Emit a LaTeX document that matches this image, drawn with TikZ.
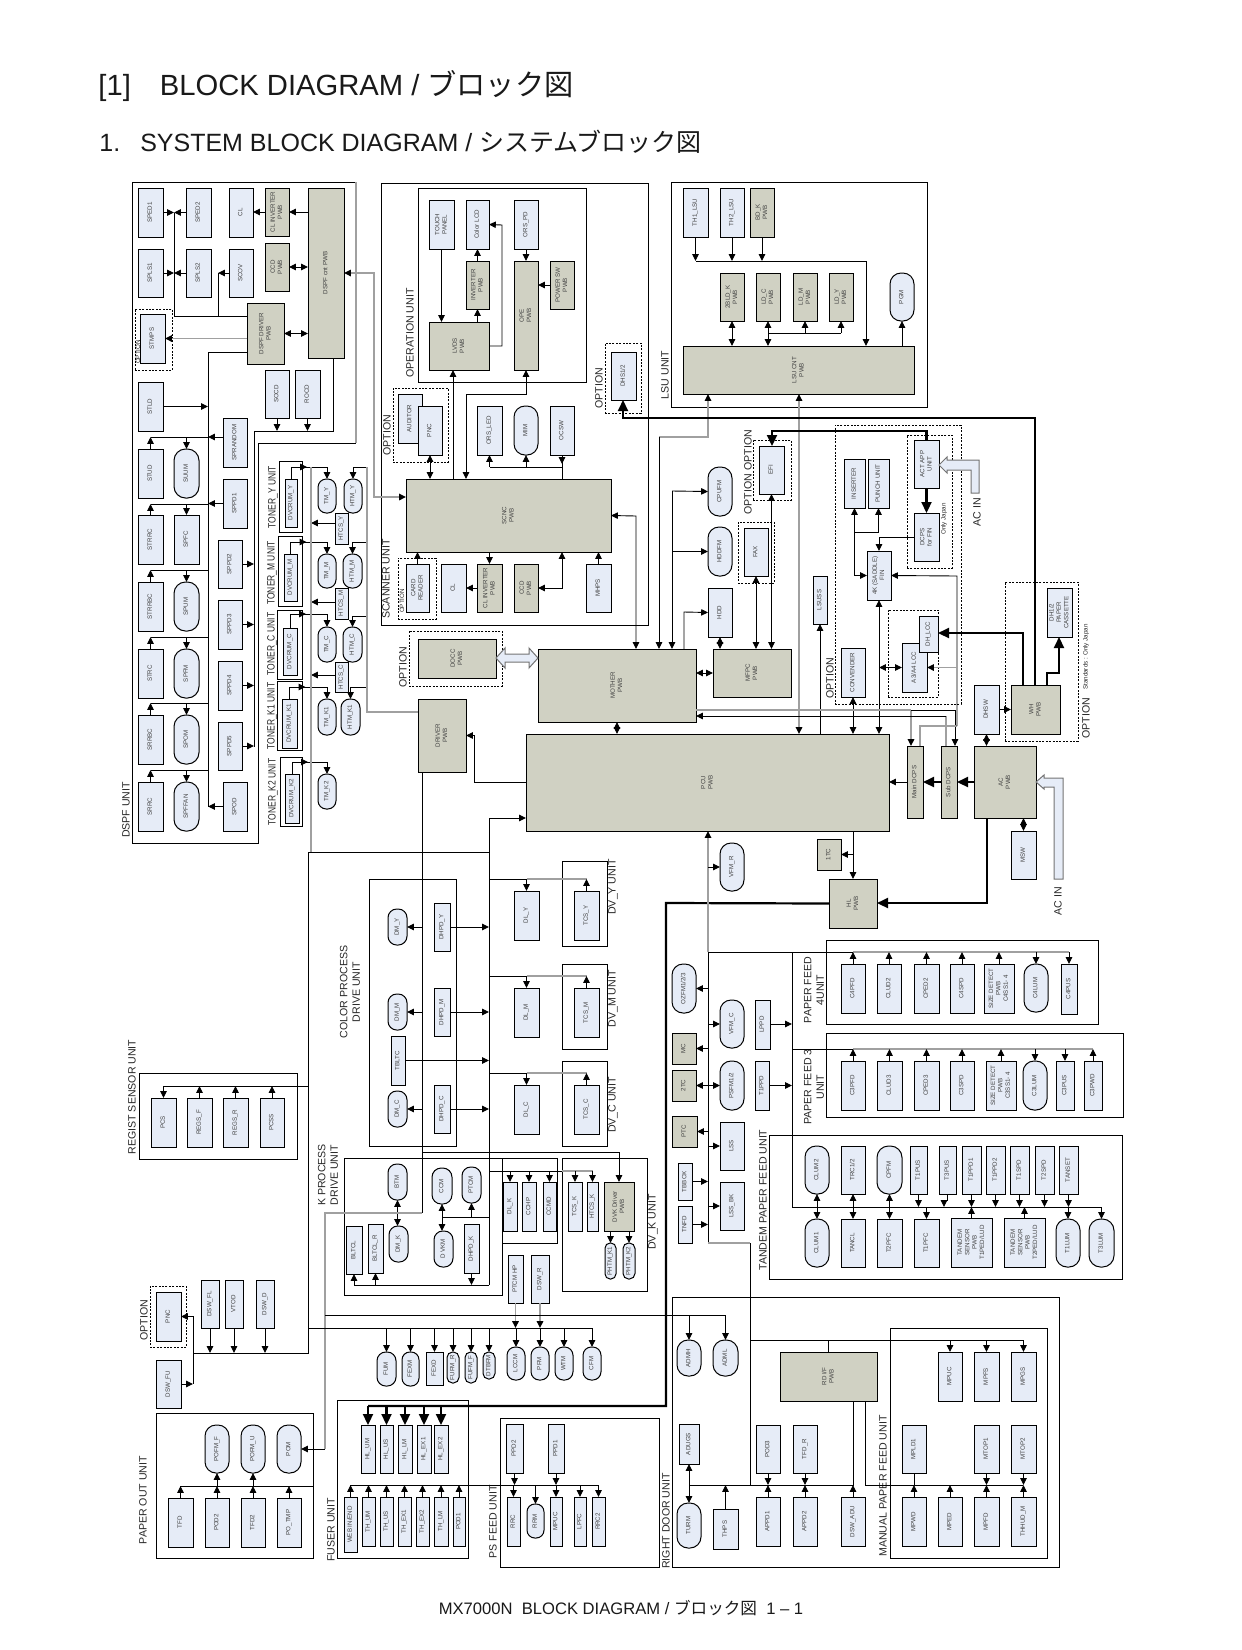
\documentclass[tikz,border=0pt]{standalone}
\usepackage{fontspec}
\setmainfont{Liberation Sans}
\newfontfamily\cjk{Noto Sans CJK JP}
\usetikzlibrary{arrows.meta}
\definecolor{sensorfill}{HTML}{E6ECF7}
\definecolor{pwbfill}{HTML}{D0D1C3}
\definecolor{railgray}{HTML}{A0A0A0}
\tikzset{
  sensor/.style={draw,fill=sensorfill,line width=0.5pt,inner sep=0pt,outer sep=0pt,text=black!75,font=\fontsize{3.1}{3.7}\selectfont},
  pwb/.style={sensor,fill=pwbfill},
  motor/.style={sensor,rounded corners=\rad pt},
  frame/.style={draw,line width=0.5pt,inner sep=0pt,outer sep=0pt},
  optbox/.style={frame,line width=0.4pt,dash pattern=on 1pt off 0.7pt},
  unit/.style={rotate=90,inner sep=0pt,align=center,text=black!85,font=\fontsize{5.3}{6.2}\selectfont},
  note/.style={unit,font=\fontsize{3.1}{3.6}\selectfont},
  wire/.style={line width=0.45pt},
  arr/.style={wire,-{Triangle[length=3.4pt,width=3.2pt]}},
  dbl/.style={wire,{Triangle[length=3.4pt,width=3.2pt]}-{Triangle[length=3.4pt,width=3.2pt]}},
  gry/.style={line width=0.7pt,railgray},
  arrg/.style={gry,-{Triangle[length=3.4pt,width=3.2pt,color=black]}},
  dblg/.style={gry,{Triangle[length=3.4pt,width=3.2pt,color=black]}-{Triangle[length=3.4pt,width=3.2pt,color=black]}},
  pwr/.style={line width=1.1pt,-{Triangle[length=5.5pt,width=5pt]}},
  bulk/.style={draw=black!55,fill=sensorfill,line width=0.5pt},
  title/.style={inner sep=0pt,anchor=west,text=black!90}
}
\newcommand{\rt}[1]{\rotatebox{90}{\begin{tabular}{@{}c@{}}#1\end{tabular}}}
\newcommand{\narrow}[1]{\scalebox{0.8}[1]{#1}}
\newcommand{\blocks}[2]{%
  \foreach \nm/\xa/\ya/\xb/\yb/\txt in {#2}{%
    \pgfmathsetmacro{\bw}{(\xb-\xa)*0.5}%
    \pgfmathsetmacro{\bh}{(\yb-\ya)*0.5}%
    \pgfmathsetmacro{\rad}{(\xb-\xa)*0.23}%
    \node[#1,minimum width=\bw pt,minimum height=\bh pt] (\nm) at ({(\xa+\xb)/2},{(\ya+\yb)/2}) {\rt{\txt}};
  }}
\begin{document}
\begin{tikzpicture}[x=0.5pt,y=-0.5pt]
    \useasboundingbox (0,0) rectangle (1242,1650);
    % Headings
    \node[title,font=\fontsize{14.6}{18}\selectfont] (headA) at (98,86) {[1]\hspace{14.5pt}BLOCK DIAGRAM / {\cjk ブロック図}};
    \node[title,font=\fontsize{12.5}{16}\selectfont] (headB) at (99,142) {1.\hspace{10pt}SYSTEM BLOCK DIAGRAM / {\cjk システムブロック図}};
    \node[inner sep=0pt,text=black!90,font=\fontsize{8.3}{10}\selectfont] (footer) at (621,1608) {MX7000N\ \ BLOCK DIAGRAM / {\cjk ブロック図}\ \ 1 – 1};

    % Unit frames
    \draw[frame] (356,182) -- (132,182) -- (132,843) -- (258,843) -- (258,443) -- (356,443);
    \draw[gry] (356,182) -- (356,443);
    \blocks{frame}{TonerYfr/279/461/302/532/{},TonerMfr/278/536/302/606/{},TonerCfr/277/610/302/679/{},TonerKafr/277/681/302/750/{},TonerKbfr/280/757/302/826/{},
      Scanfr/381/183/648/625/{},Operfr/418/188/586/382/{},Lsufr/671/182/927/407/{},
      Colorfr/369/879/456/1146/{},DvYfr/562/861/607/946/{},DvMfr/562/964/607/1049/{},DvCfr/562/1061/607/1146/{},Kprocfr/344/1158/502/1295/{},Kdlfr/502/1158/557/1243/{},DvKfr/562/1158/647/1291/{},
      Registfr/139/1073/297/1159/{},Paperfr/156/1413/313/1558/{},Fuserfr/337/1400/468/1558/{},Psfeedfr/500/1418/659/1567/{},Doorfr/672/1297/1059/1567/{},Manualfr/890/1328/1047/1558/{},
      FeedAfr/826/940/1098/1024/{},FeedBfr/826/1033/1123/1117/{},Tandemfr/769/1135/1122/1279/{}}
    \blocks{optbox}{Optstmps/135/309/172/370/{},Optaudit/393/388/448/462/{},Optcard/398/558/436/619/{},Optdhs/605/343/641/413/{},Optdocc/409/631/502/686/{},
      Optfax/738/522/774/583/{},Optefi/753/440/791/500/{},Optfin/835/425/961/704/{},Optact/907/435/952/568/{},Optlcc/888/610/938/697/{},Optwh/1005/582/1078/741/{},Optpnc/150/1286/186/1347/{}}

    % Unit labels
    \foreach \nm/\lx/\ly/\txt in {lbDspf/126/810/DSPF UNIT,lbTy/273/497/\narrow{TONER\_Y UNIT},lbTm/272/573/\narrow{TONER\_M UNIT},lbTc/272/644/\narrow{TONER\_C UNIT},lbTk/272/716/\narrow{TONER\_K1 UNIT},lbTkb/273/792/\narrow{TONER\_K2 UNIT},
      lbOper/410/333/OPERATION UNIT,lbOa/387/435/OPTION,lbOb/599/388/OPTION,lbLsu/665/375/LSU UNIT,lbScan/386/579/SCANNER UNIT,lbOc/403/667/OPTION,lbOd/748/450/OPTION,lbOe/748/494/OPTION,lbOf/830/678/OPTION,lbOg/1086/718/OPTION,
      lbAca/977/512/AC IN,lbAcb/1058/901/AC IN,lbColor/350/992/COLOR PROCESS\\DRIVE UNIT,lbKp/328/1175/K PROCESS\\DRIVE UNIT,lbDvy/613/887/DV\_Y UNIT,lbDvm/613/999/DV\_M UNIT,lbDvc/613/1105/DV\_C UNIT,lbDvk/653/1222/DV\_K UNIT,
      lbReg/132/1097/REGIST SENSOR UNIT,lbOh/144/1320/OPTION,lbPo/143/1500/PAPER OUT UNIT,lbFu/331/1530/FUSER UNIT,lbPs/493/1522/PS FEED UNIT,lbRd/666/1521/RIGHT DOOR UNIT,lbMp/883/1486/MANUAL PAPER FEED UNIT,
      lbFa/814/990/PAPER FEED\\4UNIT,lbFb/814/1087/PAPER FEED 3\\UNIT,lbTa/763/1200/TANDEM PAPER FEED UNIT}
      {\node[unit] (\nm) at (\lx,\ly) {\txt};}
    \foreach \nm/\lx/\ly/\txt in {ntA/138/352/OPTION,ntB/402/601/OPTION,ntC/944/519/Only Japan,ntD/1086/657/Standards : Only Japan}
      {\node[note] (\nm) at (\lx,\ly) {\txt};}

    % DSPF unit
    \blocks{sensor}{SPEDa/138/188/163/237/SPED1,SPEDb/186/188/211/237/SPED2,CLa/229/188/253/237/CL,SPLSa/138/249/163/297/SPLS1,SPLSb/186/249/211/297/SPLS2,SCOV/229/249/253/297/SCOV,
      STMPS/140/314/165/363/STMPS,STLD/138/382/163/431/STLD,SOCD/265/370/289/418/SOCD,ROCD/295/370/320/418/ROCD,SPRANDOM/223/418/247/467/SPRANDOM,STUD/138/449/163/498/STUD,SPPDa/223/479/247/528/SPPD1,
      STRRC/138/515/163/564/STRRC,SPPDb/218/540/242/588/SPPD2,STRRBC/138/582/163/631/STRRBC,SPPDc/218/600/242/649/SPPD3,STRC/138/649/163/698/STRC,SPPDd/218/661/242/710/SPPD4,
      SRRBC/138/715/163/764/SRRBC,SPPDe/218/722/242/770/SPPD5,SRRC/138/782/163/831/SRRC,SPOD/223/782/247/831/SPOD,SPFC/174/515/199/564/SPFC}
    \blocks{pwb}{CLINVa/265/188/289/236/CL INVERTER\\PWB,CCDa/265/243/289/291/CCD\\PWB,DSPFCNT/308/188/344/358/DSPF cnt PWB,DSPFDRV/247/303/284/364/DSPF DRIVER\\PWB}
    \blocks{motor}{SUUM/174/449/199/498/SUUM,SPUM/174/582/199/631/SPUM,SPFM/174/649/199/698/SPFM,SPOM/174/715/199/764/SPOM,SPFFAN/174/782/199/831/SPFFAN}
    \coordinate (dspfA) at (174,316);
    \coordinate (dspfB) at (218,316);
    \draw[wire] (DSPFDRV.west |- dspfA) -- (dspfA) -- (dspfA |- SPEDa.east);
    \draw[wire] (dspfB) -- (dspfB |- SCOV.west);
    \foreach \n in {SPEDa,SPLSa} \draw[arr] (\n.east) -- (\n.east -| dspfA);
    \foreach \n in {SPEDb,SPLSb} \draw[arr] (\n.west) -- (\n.west -| dspfA);
    \draw[arr] (SCOV.west) -- (SCOV.west -| dspfB);
    \draw[arr] (DSPFCNT.west |- CLINVa.east) -- (CLINVa.east);
    \draw[arr] (CLINVa.west) -- (CLINVa.west -| CLa.east);
    \draw[dbl] (CCDa.east) -- (CCDa.east -| DSPFCNT.west);
    \draw[dbl] (DSPFDRV.east) -- (DSPFDRV.east -| DSPFCNT.west);
    \draw[arrg] (DSPFDRV.west |- STMPS.east) -- (STMPS.east);
    \coordinate (dspfC) at (208,352);
    \coordinate (dspfD) at (208,807);
    \draw[wire] (DSPFDRV.west |- dspfC) -- (dspfC) -- (dspfD);
    \draw[arr] (STLD.east) -- (STLD.east -| dspfC);
    \draw[arr] (SPOD.west) -- (SPOD.west -| dspfD);
    \foreach \sr/\mo/\py in {STUD/SUUM/437,STRRC/SPFC/504,STRRBC/SPUM/570,STRC/SPFM/637,SRRBC/SPOM/703,SRRC/SPFFAN/770}{
      \draw[wire] (dspfC |- 0,\py) -- (\sr.north |- 0,\py);
      \draw[arr] (\sr.north) -- (\sr.north |- 0,\py);
      \draw[arr] (\mo.north |- 0,\py) -- (\mo.north);
    }
    \draw[arr] (SPRANDOM.west |- 0,437) -- (dspfC |- 0,437);
    \draw[arr] (SPPDa.west) -- (SPPDa.west -| dspfC);
    \coordinate (cntA) at (333,431);
    \coordinate (cntB) at (254,431);
    \coordinate (cntC) at (254,747);
    \draw[wire] (DSPFCNT.south -| cntA) -- (cntA) -- (cntB) -- (cntC);
    \foreach \n in {SOCD,ROCD} \draw[arr] (\n.south) -- (\n.south |- cntA);
    \foreach \n in {SPPDb,SPPDc,SPPDd,SPPDe} \draw[arr] (\n.east) -- (\n.east -| cntB);

    % Toner units
    \blocks{sensor}{DVY/285/479/297/527/DVCRUM\_Y,DVM/284/554/297/601/DVCRUM\_M,DVC/283/628/297/675/DVCRUM\_C,DVKa/282/699/297/748/DVCRUM\_K1,DVKb/285/774/299/823/DVCRUM\_K2,
      HTCSY/335/513/348/544/HTCS\_Y,HTCSM/335/588/348/619/HTCS\_M,HTCSC/335/662/348/692/HTCS\_C}
    \blocks{motor}{TMY/318/479/336/513/TM\_Y,HTMY/344/479/362/513/HTM\_Y,TMM/318/554/336/588/TM\_M,HTMM/343/554/362/588/HTM\_M,TMC/318/627/336/662/TM\_C,HTMC/343/627/362/662/HTM\_C,TMKa/318/699/336/735/TM\_K1,HTMK/341/699/360/735/HTM\_K1,TMKb/318/774/336/809/TM\_K2}
    \foreach \dv/\tm/\py in {DVY/TMY/467,DVM/TMM/542,DVC/TMC/614,DVKa/TMKa/687,DVKb/TMKb/762}{
      \draw[wire] (\dv.north) -- (\dv.north |- 0,\py) -- (\tm.north |- 0,\py);
      \draw[arr] (\dv.north |- 0,\py) -- ++(16,0);
      \draw[arr] (\tm.north |- 0,\py) -- (\tm.north);
    }
    \coordinate (railT) at (367,467);
    \coordinate (railB) at (367,712);
    \coordinate (railU) at (311,467);
    \coordinate (railV) at (311,852);
    \foreach \n/\py in {HTMY/467,HTMM/542,HTMC/616,HTMK/687}
      \draw[arr] (railT |- 0,\py) -- (\n.north |- 0,\py) -- (\n.north);
    \foreach \n/\py in {HTCSY/523,HTCSM/602,HTCSC/675}
      \draw[arr] (\n.west |- 0,\py) -- (railU |- 0,\py);

    % Operation unit
    \blocks{sensor}{TOUCH/429/200/454/249/TOUCH\\PANEL,CLCD/466/200/489/249/Color LCD,ORSPD/514/200/538/249/ORS\_PD}
    \blocks{pwb}{INVPWB/466/261/489/309/INVERTER\\PWB,OPE/514/261/538/370/OPE\\PWB,POWSW/550/261/574/309/POWER SW\\PWB,LVDS/429/322/489/370/LVDS\\PWB}
    \draw[arr] (TOUCH.south) -- (TOUCH.south |- LVDS.north);
    \draw[arr] (INVPWB.south |- LVDS.north) -- (INVPWB.south);
    \draw[arr] (INVPWB.north) -- (CLCD.south);
    \coordinate (lvA) at (502,346);
    \coordinate (lvB) at (502,225);
    \draw[arr] (LVDS.east) -- (lvA) -- (lvB) -- (CLCD.east);
    \draw[arr] (ORSPD.south) -- (OPE.north);
    \draw[arr] (POWSW.west |- 0,285) -- (OPE.east |- 0,285);

    % Scanner unit
    \blocks{sensor}{AUDITOR/398/394/422/443/AUDITOR,PNCa/418/406/442/455/PNC,ORSLED/477/406/502/455/ORS\_LED,OCSW/550/406/574/455/OCSW,CARD/406/564/429/612/CARD\\READER,CLb/441/564/466/612/CL,MHPS/586/564/611/612/MHPS,DHS/611/352/636/400/{DHS1/2}}
    \blocks{motor}{MIM/514/406/538/455/MIM}
    \blocks{pwb}{SCNC/406/479/611/552/SCNC\\PWB,CLINVb/477/564/502/612/CL INVERTER\\PWB,CCDb/514/564/538/612/CCD\\PWB}
    \coordinate (gA) at (374,273);
    \coordinate (gB) at (374,497);
    \draw[dblg] (DSPFCNT.east |- gA) -- (gA) -- (gB) -- (SCNC.west |- gB);
    \coordinate (opA) at (526,394);
    \coordinate (opB) at (466,394);
    \draw[dbl] (OPE.south) -- (opA) -- (opB) -- (opB |- SCNC.north);
    \coordinate (lvC) at (453,370);
    \draw[arr] (lvC |- SCNC.north) -- (lvC);
    \draw[dbl] (PNCa.south) -- (PNCa.south |- SCNC.north);
    \coordinate (ocA) at (562,467);
    \draw[wire] (ocA) -- (ORSLED.south |- ocA);
    \draw[arr] (ORSLED.south |- ocA) -- (ORSLED.south);
    \draw[arr] (MIM.south |- ocA) -- (MIM.south);
    \draw[wire] (OCSW.south) -- (OCSW.south |- SCNC.north);
    \draw[arr] (OCSW.south) -- ++(0,9);
    \draw[arr] (CARD.north) -- (CARD.north |- SCNC.south);
    \draw[arr] (CLINVb.north |- SCNC.south) -- (CLINVb.north);
    \draw[arr] (CLINVb.west) -- (CLb.east);
    \coordinate (ccA) at (562,588);
    \draw[dbl] (CCDb.east) -- (ccA) -- (ccA |- SCNC.south);
    \draw[arr] (MHPS.north) -- (MHPS.north |- SCNC.south);

    % LSU unit
    \blocks{sensor}{THaLSU/683/188/708/237/TH1\_LSU,THbLSU/720/188/744/237/TH2\_LSU}
    \blocks{pwb}{BDK/750/188/774/237/BD\_K\\PWB,LDK/720/273/744/321/2BLD\_K\\PWB,LDC/756/273/780/321/LD\_C\\PWB,LDM/793/273/817/321/LD\_M\\PWB,LDY/829/273/853/321/LD\_Y\\PWB,LSUCNT/683/346/914/394/LSU CNT\\PWB}
    \blocks{motor}{PGM/890/273/914/321/PGM}
    \coordinate (lsuA) at (696,261);
    \coordinate (lsuB) at (866,261);
    \draw[wire] (lsuA) -- (lsuB);
    \draw[arr] (lsuB) -- (lsuB |- LSUCNT.north);
    \foreach \n in {THaLSU,THbLSU,BDK} \draw[arr] (\n.south) -- (\n.south |- lsuA);
    \foreach \n in {LDK,LDC} \draw[dbl] (\n.south) -- (\n.south |- LSUCNT.north);
    \coordinate (lsuC) at (768,333);
    \draw[wire] (lsuC) -- (lsuC -| LDY.south);
    \foreach \n in {LDM,LDY} \draw[arr] (\n.south |- lsuC) -- (\n.south);
    \draw[arr] (PGM.south |- LSUCNT.north) -- (PGM.south);

    % Mother and PCU
    \blocks{pwb}{MOTHER/538/649/696/722/MOTHER\\PWB,DOCC/418/639/496/678/DOCC\\PWB,DRIVER/418/699/466/772/DRIVER\\PWB,PCU/526/734/889/831/PCU\\PWB,MFPC/713/649/791/697/MFPC\\PWB,
      MAINDC/907/746/923/818/Main DCPS,SUBDC/941/746/957/818/Sub DCPS,ACPWB/974/746/1036/818/AC\\PWB,WH/1011/685/1060/734/WH\\PWB,HL/829/879/877/928/HL\\PWB,TCa/817/839/841/870/1TC}
    \blocks{sensor}{HDD/708/588/732/637/HDD,FAX/744/528/768/576/FAX,EFI/759/446/784/494/EFI,LSUSS/813/576/827/624/LSUSS,CONV/841/648/865/697/CONVENDER,
      FIN/867/551/891/600/4K (SADDLE)\\FIN,LCC/902/643/927/692/{A3/A4 LCC},DHLCC/919/616/938/652/DH\_LCC,INSERTER/844/459/865/508/INSERTER,PUNCH/868/459/889/508/PUNCH UNIT,
      ACTAPP/914/440/939/488/ACT APP\\UNIT,DCPS/914/513/939/561/DCPS\\for FIN,DHSW/974/685/999/734/DHSW,DHCAS/1047/588/1072/637/{DH1/2\\PAPER\\CASSETTE},MSW/1011/831/1036/879/MSW}
    \blocks{motor}{CPUFM/708/467/732/516/CPUFM,HDDFM/708/527/732/576/HDDFM,VFMR/720/843/744/891/VFM\_R}
    \draw[bulk] (DOCC.east |- 0,658) -- ++(9,-10) -- ++(0,6) -- ++(24,0) -- ++(0,-6) -- (MOTHER.west |- 0,658) -- ++(-9,10) -- ++(0,-6) -- ++(-24,0) -- ++(0,6) -- cycle;
    \draw[bulk] (ACTAPP.east |- 0,465) -- ++(8,-8) -- ++(0,3) -- ++(32,0) -- ++(0,33) -- ++(-8,0) -- ++(0,-23) -- ++(-24,0) -- ++(0,3) -- cycle;
    \draw[bulk] (ACPWB.east |- 0,782) -- ++(8,-7) -- ++(0,3) -- ++(19,0) -- ++(0,101) -- ++(-9,0) -- ++(0,-92) -- ++(-10,0) -- ++(0,2) -- cycle;
    \coordinate (scA) at (636,516);
    \draw[dbl] (SCNC.east) -- (scA) -- (scA |- MOTHER.north);
    \coordinate (cnA) at (659,437);
    \coordinate (cnB) at (708,437);
    \coordinate (cnC) at (799,394);
    \draw[arrg] (cnA) -- (cnB) -- (cnB |- LSUCNT.south);
    \draw[arr] (cnA) -- (cnA |- MOTHER.north);
    \draw[dblg] (LSUCNT.south -| cnC) -- (PCU.north -| cnC);
    \coordinate (mbA) at (672,491);
    \draw[arr] (mbA) -- (CPUFM.west);
    \draw[arr] (mbA) -- (mbA |- MOTHER.north);
    \draw[arr] (HDDFM.west -| mbA) -- (HDDFM.west);
    \coordinate (mbB) at (684,612);
    \draw[arr] (mbB |- MOTHER.north) -- (mbB) -- (HDD.west);
    \draw[dbl] (MFPC.west) -- (MFPC.west -| MOTHER.east);
    \draw[dbl] (HDD.south) -- (HDD.south |- MFPC.north);
    \draw[dbl] (FAX.south) -- (FAX.south |- MFPC.north);
    \draw[dbl] (EFI.south) -- (EFI.south |- MFPC.north);
    \draw[arr] (LSUSS.south |- PCU.north) -- (LSUSS.south);
    \draw[dbl] (CONV.south) -- (CONV.south |- PCU.north);
    \draw[dbl] (FIN.south) -- (FIN.south |- PCU.north);
    \draw[dbl] (LCC.west) -- (LCC.west -| FIN.south);
    \draw[dbl] (MOTHER.south) -- (MOTHER.south |- PCU.north);
    \coordinate (drA) at (474,782);
    \draw[arr] (PCU.west |- drA) -- (drA) -- (drA |- DRIVER.east) -- (DRIVER.east);

    % Option finisher wiring
    \coordinate (thA) at (1035,418);
    \coordinate (thB) at (623,418);
    \draw[pwr] (WH.north -| thA) -- (thA) -- (thB) -- (DHS.south -| thB);
    \coordinate (acpA) at (927,431);
    \coordinate (acpB) at (772,431);
    \draw[pwr] (ACTAPP.north) -- (ACTAPP.north |- acpA) -- (acpB) -- (EFI.north -| acpB);
    \draw[pwr] (ACTAPP.south) -- (DCPS.north);
    \draw[arr] (DCPS.west) -- (DCPS.west -| FIN.north) -- (FIN.north);
    \draw[dbl] (INSERTER.south) -- (INSERTER.south |- FIN.west) -- (FIN.west);
    \draw[arr] (INSERTER.south |- 0,532) -- (PUNCH.south |- 0,532) -- (PUNCH.south);
    \coordinate (whA) at (1023,633);
    \draw[pwr] (WH.north -| whA) -- (whA) -- (DHLCC.east |- whA);
    \coordinate (whB) at (1047,673);
    \coordinate (whC) at (1059,673);
    \draw[pwr] (WH.north -| whB) -- (whB) -- (whC) -- (DHCAS.south -| whC);
    \draw[arr] (DHSW.east) -- (WH.west |- DHSW.east);
    \draw[dbl] (DHSW.south) -- (DHSW.south |- ACPWB.north);
    \draw[dbl] (MSW.north) -- (MSW.north |- ACPWB.south);
    \draw[pwr] (ACPWB.west) -- (SUBDC.east);
    \draw[pwr] (SUBDC.west) -- (MAINDC.east);
    \draw[arr] (MAINDC.west) -- (PCU.east |- MAINDC.west);
    \coordinate (acA) at (987,903);
    \draw[pwr] (ACPWB.south -| acA) -- (acA) -- (HL.east |- acA);
    \draw[arr] (PCU.south -| HL.north) -- (HL.north);
    \draw[arr] (TCa.east -| HL.north) -- (TCa.east);

    % Power rails
    \coordinate (rlA) at (911,710);
    \coordinate (rlB) at (955,710);
    \coordinate (rlC) at (946,716);
    \coordinate (rlD) at (920,726);
    \coordinate (rlE) at (957,726);
    \coordinate (rlF) at (957,576);
    \draw[gry] (MOTHER.east |- rlA) -- (rlA);
    \draw[arrg] (rlA) -- (rlA |- MAINDC.north);
    \draw[arr] (rlA) -- (rlB) -- (rlB |- SUBDC.north);
    \draw[gry] (rlC) -- (rlC |- SUBDC.north);
    \draw[arr] (rlC) -- (MOTHER.east |- rlC);
    \draw[gry] (rlD |- MAINDC.north) -- (rlD) -- (rlE);
    \draw[arr] (rlE) -- (rlF) -- (FIN.east);
    \draw[arrg] (rlE |- LCC.east) -- (LCC.east);

    % Drive units
    \blocks{sensor}{DHPDY/434/903/450/951/DHPD\_Y,DHPDM/434/988/450/1036/DHPD\_M,DHPDC/434/1085/450/1133/DHPD\_C,TBLTC/391/1036/405/1085/TBLTC,
      DLY/514/891/539/940/DL\_Y,DLM/514/988/539/1037/DL\_M,DLC/514/1085/539/1134/DL\_C,TCSY/574/891/599/940/TCS\_Y,TCSM/574/988/599/1037/TCS\_M,TCSC/574/1085/599/1134/TCS\_C,
      DHPDK/464/1224/479/1273/DHPD\_K,BLTCL/346/1226/362/1274/BLTCL,BLTCLR/368/1224/383/1273/BLTCL\_R,DLK/503/1182/517/1231/DL\_K,CCHP/522/1182/536/1231/CCHP,CCMD/543/1182/556/1231/CCMD,
      TCSK/568/1182/582/1231/TCS\_K,HTCSK/587/1182/598/1231/HTCS\_K,PTCMHP/508/1255/523/1303/PTCM HP,DSWR/531/1255/549/1303/DSW\_R}
    \blocks{pwb}{DVK/604/1182/634/1231/DVK Driver\\PWB}
    \blocks{motor}{DMY/388/909/407/945/DM\_Y,DMM/388/994/407/1030/DM\_M,DMCc/388/1091/407/1127/DM\_C,BTM/388/1164/407/1200/BTM,DMK/389/1226/408/1262/DM\_K,CCM/432/1168/452/1204/CCM,PTCM/462/1167/481/1203/PTCM,DVKM/434/1231/453/1267/D VKM,
      PHTMa/605/1243/616/1279/PHTM\_K1,PHTMb/623/1243/635/1279/PHTM\_K2}
    \coordinate (drvA) at (422,852);
    \coordinate (drvB) at (422,1213);
    \coordinate (dvT) at (489,818);
    \coordinate (dvB) at (489,1285);
    \draw[wire] (DRIVER.south -| drvA) -- (drvB);
    \draw[wire] (dvT) -- (dvB);
    \draw[arr] (dvT) -- (PCU.west |- dvT);
    \foreach \n in {DHPDY,DHPDM,DHPDC,TBLTC} \draw[arr] (\n.east) -- (\n.east -| dvT);
    \draw[arr] (drvA |- DMY.east) -- (DMY.east);
    \draw[arr] (drvA |- DMM.east) -- (DMM.east);
    \draw[arr] (drvA |- DMCc.east) -- (DMCc.east);
    \foreach \dl/\tc/\py in {DLY/TCSY/879,DLM/TCSM/976,DLC/TCSC/1073}{
      \draw[wire] (dvT |- 0,\py) -- (\dl.north |- 0,\py);
      \draw[gry] (\dl.north |- 0,\py) -- (\tc.north |- 0,\py);
      \draw[arr] (\dl.north |- 0,\py) -- (\dl.north);
      \draw[arr] (\tc.north) -- (\tc.north |- 0,\py);
    }
    \coordinate (kbA) at (489,1171);
    \coordinate (kbB) at (562,1171);
    \draw[wire] (kbA) -- (kbB);
    \draw[gry] (kbB) -- (HTCSK.north |- kbB);
    \foreach \n in {DLK,CCHP,CCMD,TCSK,HTCSK} \draw[arr] (\n.north |- kbA) -- (\n.north);
    \coordinate (kcA) at (422,1152);
    \coordinate (kcB) at (619,1152);
    \draw[arr] (kcA) -- (kcB) -- (DVK.north);
    \draw[arr] (PHTMa.north |- DVK.south) -- (PHTMa.north);
    \draw[arr] (PHTMb.north |- DVK.south) -- (PHTMb.north);
    \draw[dbl] (BTM.south) -- (BTM.south |- DMK.north);
    \draw[dbl] (CCM.south) -- (CCM.south |- DVKM.north);
    \coordinate (kpC) at (442,1217);
    \draw[wire] (kpC) -- (dvT |- kpC);
    \draw[arr] (PTCM.south |- kpC) -- (PTCM.south);
    \draw[wire] (BLTCL.south |- dvB) -- (dvB);
    \draw[arr] (BLTCL.south |- dvB) -- (BLTCL.south);
    \draw[arr] (BLTCLR.south |- dvB) -- (BLTCLR.south);
    \draw[arr] (DHPDK.south) -- (DHPDK.south |- dvB);

    % Frame wires and fans
    \blocks{sensor}{PCS/151/1098/176/1147/PCS,REGSF/187/1098/212/1147/REGS\_F,REGSR/223/1098/248/1147/REGS\_R,PCSS/260/1098/284/1147/PCSS,
      DSWFL/201/1280/219/1328/DSW\_FL,VTOD/225/1280/243/1328/VTOD,DSWD/256/1280/274/1328/DSW\_D,PNCb/156/1292/181/1341/PNC,DSWFU/156/1360/181/1408/DSW\_FU,
      TFD/168/1498/193/1547/TFD,POD2/205/1498/229/1547/POD2,TFD2/241/1498/265/1547/TFD2,POTMP/277/1498/301/1547/PO\_TMP,FEXD/426/1352/443/1385/FEXD}
    \blocks{motor}{POFMF/205/1425/229/1473/POFM\_F,POFMU/241/1425/265/1473/POFM\_U,POM/277/1425/301/1473/POM,FUM/377/1352/396/1386/FUM,FEXM/402/1352/419/1386/FEXM,FUFMR/447/1352/459/1383/FUFM\_R,FUFMF/465/1352/477/1383/FUFM\_F,DTBFM/483/1352/495/1379/DTBFM,
      LCCM/507/1347/525/1380/LCCM,PFM/531/1347/549/1380/PFM,WTM/555/1347/573/1380/WTM,CFM/583/1347/601/1380/CFM}
    \coordinate (mfA) at (489,852);
    \coordinate (mfB) at (308,852);
    \coordinate (mfC) at (308,1353);
    \coordinate (pxA) at (193,1353);
    \draw[wire] (mfA) -- (mfB) -- (mfC) -- (pxA) -- (pxA |- DSWFU.east);
    \draw[gry] (railT) -- (railB) -- (DRIVER.west |- railB);
    \draw[gry] (railU) -- (railV);
    \draw[arr] (pxA) -- (pxA |- PNCb.east) -- (PNCb.east);
    \draw[arr] (DSWFU.east) -- (DSWFU.east -| pxA);
    \foreach \n in {DSWFL,VTOD,DSWD} \draw[arr] (\n.south) -- (\n.south |- pxA);
    \coordinate (rgA) at (163,1086);
    \draw[wire] (rgA) -- (mfB |- rgA);
    \draw[arr] (PCS.north |- rgA) -- (PCS.north);
    \foreach \n in {REGSF,REGSR,PCSS} \draw[arr] (\n.north) -- (\n.north |- rgA);
    \coordinate (poA) at (180,1486);
    \coordinate (poB) at (313,1486);
    \draw[wire] (poA) -- (poB);
    \foreach \n in {TFD,POD2,TFD2,POTMP} \draw[arr] (\n.north) -- (\n.north |- poA);
    \foreach \n in {POFMF,POFMU} \draw[arr] (\n.south |- poA) -- (\n.south);
    \coordinate (grA) at (325,1213);
    \coordinate (grB) at (325,1449);
    \draw[gry] (drvB) -- (grA) -- (grB);
    \draw[arr] (grB) -- (POM.east);
    \coordinate (faA) at (308,1328);
    \coordinate (faB) at (592,1328);
    \draw[wire] (faA) -- (faB);
    \foreach \n in {FUM,FEXM,FEXD,FUFMR,FUFMF,DTBFM,LCCM,PFM,WTM,CFM} \draw[arr] (\n.north |- faA) -- (\n.north);
    \foreach \n in {PTCMHP,DSWR} \draw[arrg] (\n.south) -- (\n.south |- faA);

    % Fuser and PS feed
    \blocks{sensor}{HLUM/361/1425/375/1473/HL\_UM,HLUS/380/1425/393/1473/HL\_US,HLLM/398/1425/412/1473/HL\_LM,HLEXa/417/1425/431/1473/HL\_EX1,HLEXb/434/1425/448/1473/HL\_EX2,
      WEB/344/1497/357/1552/{WEB IN/END},THUM/362/1497/375/1546/TH\_UM,THUS/380/1497/393/1546/TH\_US,THEXa/398/1497/411/1546/TH\_EX1,THEXb/416/1497/429/1546/TH\_EX2,THLM/434/1497/448/1546/TH\_LM,POD1/453/1497/465/1546/POD1,
      PPD2/506/1424/523/1473/PPD2,PPD1/548/1424/564/1473/PPD1,RRC/507/1497/520/1546/RRC,MPUCa/550/1497/562/1546/MPUC,LPFC/574/1497/586/1546/LPFC,RRCb/592/1497/605/1546/RRC2}
    \blocks{motor}{RRM/527/1504/544/1538/RRM}
    \coordinate (thC) at (666,903);
    \coordinate (thD) at (666,1406);
    \draw[line width=1.1pt] (HL.west) -- (thC) -- (thD) -- (HLUM.north |- thD);
    \foreach \n in {HLUM,HLUS,HLLM,HLEXa,HLEXb} \draw[pwr] (\n.north |- thD) -- (\n.north);
    \coordinate (fuA) at (350,1485);
    \coordinate (fuB) at (598,1485);
    \draw[wire] (fuA) -- (fuB);
    \foreach \n in {WEB,THUM,THUS,THEXa,THEXb,THLM,POD1} \draw[arr] (\n.north) -- (\n.north |- fuA);
    \foreach \n in {PPD2,PPD1} \draw[arr] (\n.south) -- (\n.south |- fuA);
    \foreach \n in {RRC,RRM,MPUCa,LPFC,RRCb} \draw[arr] (\n.north |- fuA) -- (\n.north);

    % Right side column
    \blocks{sensor}{LSS/720/1122/744/1170/LSS,LSSBK/720/1182/744/1230/LSS\_BK,TBBOX/678/1163/692/1200/TBBOX,TNFD/678/1206/692/1243/TNFD,LPPD/755/1000/770/1049/LPPD,TaPPD/755/1061/769/1110/T1PPD}
    \blocks{pwb}{MC/672/1033/696/1064/MC,TCb/672/1070/696/1101/2TC,PTC/672/1116/697/1147/PTC}
    \blocks{motor}{OZFM/672/964/696/1013/{OZFM1/2/3},VFMC/720/1000/744/1048/VFM\_C,PSFM/720/1061/744/1110/{PSFM1/2}}
    \coordinate (vbA) at (708,903);
    \coordinate (vbB) at (708,952);
    \coordinate (vbC) at (708,1243);
    \coordinate (vbD) at (750,1243);
    \coordinate (vbE) at (750,1485);
    \draw[arrg] (vbA) -- (vbA |- PCU.south);
    \draw[gry] (vbA) -- (vbB);
    \draw[wire] (vbB) -- (vbC);
    \draw[gry] (vbC) -- (vbD);
    \draw[wire] (vbD) -- (vbE);
    \draw[arr] (VFMR.west -| vbA) -- (VFMR.west);
    \foreach \n in {OZFM,MC,TCb,PTC} \draw[arr] (\n.east -| vbA) -- (\n.east);
    \foreach \n in {VFMC,PSFM,LSS,LSSBK} \draw[arr] (\n.west -| vbA) -- (\n.west);
    \foreach \n in {TBBOX,TNFD} \draw[arr] (\n.east) -- (\n.east -| vbA);

    % Paper feed units
    \blocks{sensor}{CaPFD/841/964/865/1013/C4PFD,CLUDb/877/964/901/1013/CLUD2,CPEDb/914/964/939/1013/CPED2,CaSPD/950/964/974/1013/C4SPD,SIZEa/984/964/1014/1013/SIZE DETECT\\PWB\\C4SS1- 4,CaPUS/1061/964/1077/1014/C4PUS,
      CbPFD/841/1061/865/1110/C3PFD,CLUDc/877/1061/902/1110/CLUD3,CPEDc/914/1061/939/1110/CPED3,CbSPD/950/1061/974/1110/C3SPD,SIZEb/986/1061/1016/1110/SIZE DETECT\\PWB\\C3SS1- 4,CbPUS/1056/1061/1074/1110/C3PUS,CbPWD/1084/1061/1102/1110/C3PWD,
      TRC/841/1146/865/1194/{TRC1/2},TaPUS/910/1146/927/1194/T1PUS,TbPUS/939/1146/956/1194/T3PUS,TaPa/962/1146/981/1194/T1PPD1,TaPb/986/1146/1005/1194/T1PPD2,TaSPD/1010/1146/1029/1194/T1SPD,TbSPD/1035/1146/1054/1194/T2SPD,TANSET/1059/1146/1078/1194/TANSET,
      TANCL/841/1219/865/1267/TANCL,TbPFC/877/1219/902/1267/T2PFC,TaPFC/914/1219/939/1267/T1PFC,TANDa/951/1218/992/1267/{TANDEM\\SENSOR\\PWB\\T1PED/LUD},TANDb/1004/1218/1045/1267/{TANDEM\\SENSOR\\PWB\\T2PED/LUD}}
    \blocks{motor}{CaLUM/1024/964/1048/1012/C4LUM,CbLUM/1023/1061/1047/1110/C3LUM,CLUMb/805/1146/829/1194/CLUM2,CPFM/877/1146/902/1194/CPFM,CLUMa/805/1219/829/1267/CLUM1,TaLUM/1056/1219/1080/1267/T1LUM,TcLUM/1089/1219/1114/1267/T3LUM}
    \coordinate (fbA) at (792,952);
    \coordinate (fbB) at (792,1207);
    \coordinate (fbC) at (1101,1207);
    \coordinate (fbD) at (792,1049);
    \coordinate (fbF) at (853,952);
    \coordinate (fbG) at (853,1049);
    \draw[wire] (vbB) -- (fbF);
    \draw[gry] (fbF) -- (CaPUS.north |- fbF);
    \draw[wire] (fbA) -- (fbB) -- (fbC);
    \draw[wire] (fbD) -- (fbG);
    \draw[gry] (fbG) -- (CbPWD.north |- fbG);
    \draw[arr] (LPPD.east |- VFMC.west) -- (fbA |- VFMC.west);
    \draw[arr] (TaPPD.east) -- (TaPPD.east -| fbA);
    \foreach \n in {CaPFD,CLUDb,CPEDb,CaSPD,SIZEa} \draw[arr] (\n.north) -- (\n.north |- fbA);
    \foreach \n in {CaLUM,CaPUS} \draw[arr] (\n.north |- fbA) -- (\n.north);
    \foreach \n in {CbPFD,CLUDc,CPEDc,CbSPD,SIZEb,CbPWD} \draw[arr] (\n.north) -- (\n.north |- fbD);
    \foreach \n in {CbLUM,CbPUS} \draw[arr] (\n.north |- fbD) -- (\n.north);
    \draw[dbl] (CLUMb.south) -- (CLUMa.north);
    \draw[dbl] (TRC.south) -- (TANCL.north);
    \draw[dbl] (CPFM.south) -- (CPFM.south |- TbPFC.north);
    \foreach \n in {TaPUS,TaPa,TaPb,TaSPD,TbSPD} \draw[arr] (\n.south) -- (\n.south |- fbB);
    \foreach \n in {TaPFC,TaLUM,TcLUM} \draw[arr] (\n.north |- fbB) -- (\n.north);
    \foreach \n in {TANDa,TANDb} \draw[arr] (\n.north) -- (\n.north |- fbB);
    \draw[arr] (TANSET.south) -- (TANSET.south |- fbB);
    \coordinate (tpA) at (944,1207);
    \draw[arr] (TbPUS.south) -- ++(0,6) -| (tpA);

    % Right door and manual feed
    \blocks{pwb}{RDIF/780/1352/877/1401/{RD I/F\\PWB}}
    \blocks{sensor}{MPUCb/938/1352/962/1401/MPUC,MPFS/974/1352/999/1401/MPFS,MPGS/1011/1352/1036/1401/MPGS,ADUGS/679/1424/699/1464/ADUGS,POD3/756/1425/780/1473/POD3,TFDR/793/1425/817/1473/TFD\_R,
      MPLD/902/1425/926/1473/MPLD1,MTOPa/974/1425/999/1473/MTOP1,MTOPb/1011/1425/1036/1473/MTOP2,THPS/713/1509/738/1549/THPS,APPDa/756/1497/780/1546/APPD1,APPDb/793/1497/817/1546/APPD2,DSWADU/841/1497/865/1546/DSW\_ADU,
      MPWD/902/1497/926/1546/MPWD,MPED/938/1497/962/1546/MPED,MPFD/974/1497/999/1546/MPFD,THHUD/1011/1497/1036/1546/THHUD\_M}
    \blocks{motor}{ADMH/677/1340/701/1376/ADMH,ADML/713/1340/738/1376/ADML,TURM/677/1503/701/1548/TURM}
    \coordinate (busP) at (325,1315);
    \coordinate (busQ) at (726,1315);
    \draw[wire] (busP) -- (busQ);
    \foreach \n in {ADMH,ADML} \draw[arr] (\n.north |- busP) -- (\n.north);
    \coordinate (mnA) at (750,1340);
    \coordinate (mnB) at (1024,1340);
    \draw[wire] (mnA) -- (mnB);
    \draw[wire] (RDIF.north |- mnA) -- (RDIF.north);
    \foreach \n in {MPUCb,MPFS,MPGS} \draw[arr] (\n.north |- mnA) -- (\n.north);
    \coordinate (mnC) at (689,1485);
    \coordinate (mnD) at (853,1485);
    \coordinate (mnE) at (865,1485);
    \coordinate (mnF) at (1023,1485);
    \draw[wire] (mnC) -- (mnD) -- (mnD |- RDIF.south);
    \draw[wire] (mnE |- RDIF.south) -- (mnE) -- (mnF);
    \draw[dbl] (ADUGS.south) -- (TURM.north);
    \foreach \n in {POD3,TFDR,MTOPa,MTOPb} \draw[arr] (\n.south) -- (\n.south |- mnC);
    \foreach \n in {APPDa,APPDb,DSWADU,THPS,MPWD,MPED,MPFD,THHUD} \draw[arr] (\n.north) -- (\n.north |- mnC);
    \draw[wire] (MPLD.south) -- (MPLD.south |- mnC);
\end{tikzpicture}
\end{document}
